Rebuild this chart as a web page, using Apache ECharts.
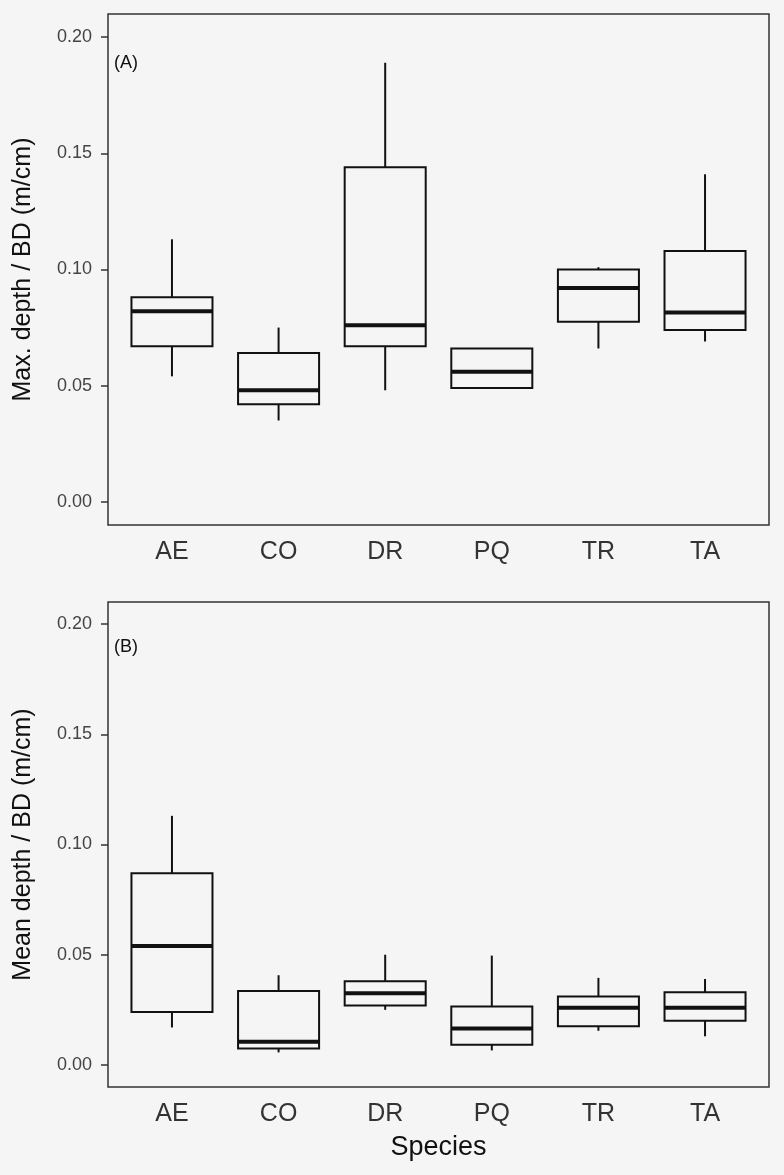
<!DOCTYPE html>
<html>
<head>
<meta charset="utf-8">
<script src="https://cdn.jsdelivr.net/npm/echarts@6/dist/echarts.min.js"></script>
<style>
html,body{margin:0;padding:0;background:#f5f5f5;}
#chart{width:784px;height:1175px;}
</style>
</head>
<body>
<div id="chart"></div>
<script>
// Categories
var species = ['AE', 'CO', 'DR', 'PQ', 'TR', 'TA'];
var yTicks = [0, 0.05, 0.10, 0.15, 0.20];

// Panel A: Max. depth / BD  [lower whisker, Q1, median, Q3, upper whisker]
var maxLow  = [0.054, 0.035, 0.048, 0.049, 0.066, 0.069];
var maxQ1   = [0.067, 0.042, 0.067, 0.049, 0.0775, 0.074];
var maxMed  = [0.082, 0.048, 0.076, 0.056, 0.092, 0.0815];
var maxQ3   = [0.088, 0.064, 0.144, 0.066, 0.100, 0.108];
var maxHigh = [0.113, 0.075, 0.189, 0.066, 0.101, 0.141];

// Panel B: Mean depth / BD
var meanLow  = [0.017, 0.0057, 0.025, 0.0066, 0.0155, 0.013];
var meanQ1   = [0.024, 0.0075, 0.027, 0.0092, 0.0176, 0.020];
var meanMed  = [0.054, 0.0105, 0.0325, 0.0165, 0.026, 0.026];
var meanQ3   = [0.087, 0.0336, 0.038, 0.0265, 0.031, 0.033];
var meanHigh = [0.113, 0.0407, 0.050, 0.0496, 0.0395, 0.039];

function build(low, q1, med, q3, high) {
  return species.map(function (s, i) {
    return [i + 1, low[i], q1[i], med[i], q3[i], high[i]];
  });
}

var chart = echarts.init(document.getElementById('chart'), null, {renderer: 'canvas'});

var FONT = 'Liberation Sans, Arial, sans-serif';
var lineColor = '#111';

function renderBox(params, api) {
  var x = api.value(0);
  var lo = api.coord([x, api.value(1)]);
  var q1 = api.coord([x, api.value(2)]);
  var md = api.coord([x, api.value(3)]);
  var q3 = api.coord([x, api.value(4)]);
  var hi = api.coord([x, api.value(5)]);
  var w = api.size([0.76, 0])[0];
  var cx = q1[0];
  var style = {stroke: lineColor, lineWidth: 2, fill: null};
  return {
    type: 'group',
    children: [
      {type: 'line', shape: {x1: cx, y1: q3[1], x2: cx, y2: hi[1]}, style: style},
      {type: 'line', shape: {x1: cx, y1: lo[1], x2: cx, y2: q1[1]}, style: style},
      {type: 'rect', shape: {x: cx - w / 2, y: q3[1], width: w, height: q1[1] - q3[1]}, style: {stroke: lineColor, lineWidth: 2, fill: 'rgba(0,0,0,0)'}},
      {type: 'line', shape: {x1: cx - w / 2, y1: md[1], x2: cx + w / 2, y2: md[1]}, style: {stroke: lineColor, lineWidth: 4}}
    ]
  };
}

function xAxisCfg(gridIndex, name) {
  return {
    gridIndex: gridIndex,
    type: 'value',
    min: 0.4,
    max: 6.6,
    name: name,
    nameLocation: 'middle',
    nameGap: 47,
    nameTextStyle: {fontFamily: FONT, fontSize: 27, color: '#111'},
    axisLine: {show: false},
    axisTick: {show: false},
    splitLine: {show: false},
    axisLabel: {
      customValues: [1, 2, 3, 4, 5, 6],
      formatter: function (v) { return species[Math.round(v) - 1] || ''; },
      fontFamily: FONT, fontSize: 25, color: '#333', margin: 15
    }
  };
}

function yAxisCfg(gridIndex, name) {
  return {
    gridIndex: gridIndex,
    type: 'value',
    min: -0.01,
    max: 0.21,
    name: name,
    nameLocation: 'middle',
    nameGap: 72,
    nameTextStyle: {fontFamily: FONT, fontSize: 25, color: '#111'},
    axisLine: {show: false},
    splitLine: {show: false},
    axisTick: {show: true, customValues: yTicks, length: 7, lineStyle: {color: '#333', width: 1.5}},
    axisLabel: {
      customValues: yTicks,
      formatter: function (v) { return v.toFixed(2); },
      fontFamily: FONT, fontSize: 18, color: '#444', margin: 16
    }
  };
}

var option = {
  backgroundColor: '#f5f5f5',
  animation: false,
  grid: [
    {left: 108, top: 14, width: 661, height: 511, show: true, borderColor: '#333', borderWidth: 1.5, backgroundColor: 'transparent'},
    {left: 108, top: 602, width: 661, height: 485, show: true, borderColor: '#333', borderWidth: 1.5, backgroundColor: 'transparent'}
  ],
  xAxis: [xAxisCfg(0, ''), xAxisCfg(1, 'Species')],
  yAxis: [yAxisCfg(0, 'Max. depth / BD (m/cm)'), yAxisCfg(1, 'Mean depth / BD (m/cm)')],
  graphic: [
    {type: 'text', left: 114, top: 54, style: {text: '(A)', font: '18px ' + FONT, fill: '#111'}},
    {type: 'text', left: 114, top: 638, style: {text: '(B)', font: '18px ' + FONT, fill: '#111'}}
  ],
  series: [
    {type: 'custom', xAxisIndex: 0, yAxisIndex: 0, renderItem: renderBox,
     encode: {x: 0, y: [1, 2, 3, 4, 5]}, data: build(maxLow, maxQ1, maxMed, maxQ3, maxHigh)},
    {type: 'custom', xAxisIndex: 1, yAxisIndex: 1, renderItem: renderBox,
     encode: {x: 0, y: [1, 2, 3, 4, 5]}, data: build(meanLow, meanQ1, meanMed, meanQ3, meanHigh)}
  ]
};
chart.setOption(option);
</script>
</body>
</html>
